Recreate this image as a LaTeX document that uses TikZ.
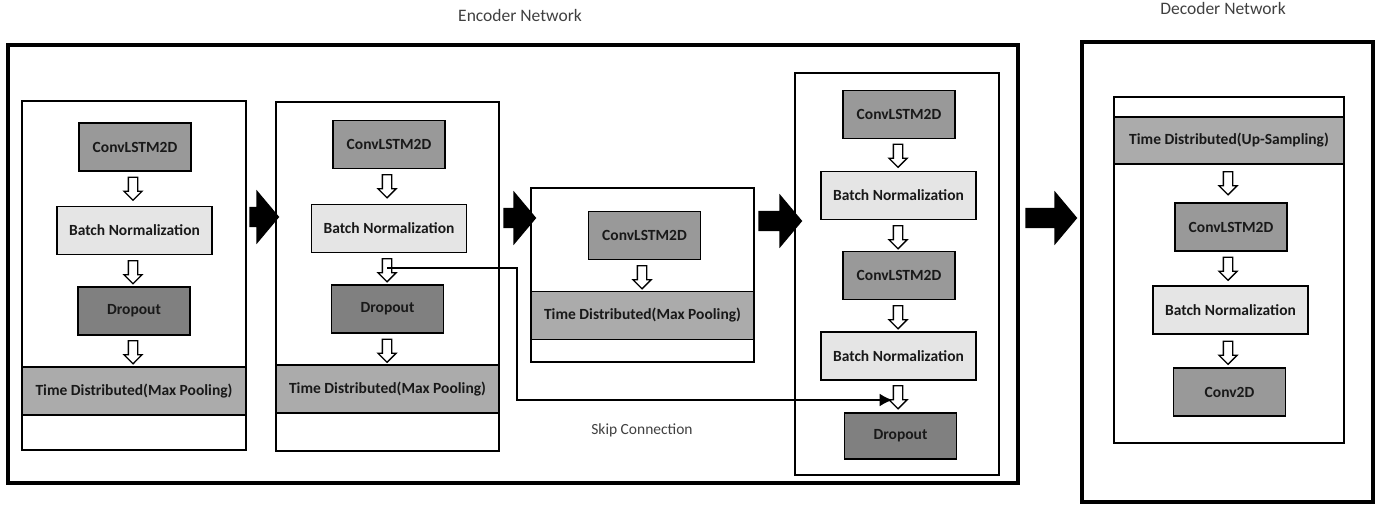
\documentclass[tikz,border=0pt]{standalone}
\usepackage{fontspec}
\setmainfont{Carlito}
\usepackage[usenames,dvipsnames]{xcolor}
\usetikzlibrary{calc, shapes.arrows, arrows.meta}

\definecolor{convgray}{gray}{0.60}
\definecolor{bngray}{gray}{0.90}
\definecolor{dropgray}{gray}{0.50}
\definecolor{tdgray}{gray}{0.67}

\tikzset{
    layerbox/.style={draw, line width=1.5pt, inner sep=0pt, minimum height=48pt,
        font=\fontsize{15.5}{17}\selectfont\bfseries, text=black!90},
    conv/.style={layerbox, fill=convgray, minimum width=112pt},
    batchnorm/.style={layerbox, fill=bngray, minimum width=155pt},
    dropbox/.style={layerbox, fill=dropgray, minimum width=112pt},
    tdist/.style={layerbox, fill=tdgray, minimum width=224pt},
    blockframe/.style={line width=2.5pt},
    flow/.style={single arrow, draw, fill=white, line width=1.3pt, shape border rotate=270,
        inner sep=4pt, single arrow head extend=4.5pt, minimum height=23pt},
    bigflow/.style={single arrow, fill=black, inner sep=10pt, single arrow head extend=17pt,
        single arrow tip angle=100},
    nettitle/.style={font=\fontsize{17.5}{19}\selectfont, text=black!75},
}

\begin{document}
\begin{tikzpicture}[x=1pt, y=-1pt]
    \useasboundingbox (0,0) rectangle (1387,506);

    % encoder and decoder frames
    \draw[line width=4pt] (8,45) rectangle (1018,483);
    \draw[line width=4pt] (1082,42) rectangle (1373,502);
    \node[nettitle] (enct) at (520,15) {Encoder Network};
    \node[nettitle] (dect) at (1223,8) {Decoder Network};

    % block 1
    \draw[blockframe] (22,101) rectangle (246,450);
    \node[conv] (b1c) at (135,147) {ConvLSTM2D};
    \node[flow] (b1f1) at (133,186.5) {};
    \node[batchnorm] (b1n) at (134.5,230.5) {Batch Normalization};
    \node[flow] (b1f2) at (133,270) {};
    \node[dropbox] (b1d) at (134,311) {Dropout};
    \node[flow] (b1f3) at (133,350) {};
    \node[tdist] (b1t) at (134,391) {Time Distributed(Max Pooling)};

    % block 2
    \draw[blockframe] (276,102) rectangle (499,451);
    \node[conv] (b2c) at (389,144.5) {ConvLSTM2D};
    \node[flow] (b2f1) at (387,184) {};
    \node[batchnorm] (b2n) at (389,228.5) {Batch Normalization};
    \node[flow] (b2f2) at (387,268) {};
    \node[dropbox] (b2d) at (387.5,309) {Dropout};
    \node[flow] (b2f3) at (387,348.5) {};
    \node[tdist, minimum width=223pt] (b2t) at (387.5,389) {Time Distributed(Max Pooling)};

    % block 3
    \draw[blockframe] (531,188) rectangle (754,362);
    \node[conv] (b3c) at (644.5,235.5) {ConvLSTM2D};
    \node[flow] (b3f1) at (642,275) {};
    \node[tdist, minimum width=223pt] (b3t) at (642.5,315.5) {Time Distributed(Max Pooling)};

    % block 4
    \draw[blockframe] (795,73) rectangle (999,475);
    \node[conv] (b4c1) at (899,114.5) {ConvLSTM2D};
    \node[flow] (b4f1) at (898,153.5) {};
    \node[batchnorm] (b4n1) at (898.5,195.5) {Batch Normalization};
    \node[flow] (b4f2) at (898,235) {};
    \node[conv] (b4c2) at (899,275.5) {ConvLSTM2D};
    \node[flow] (b4f3) at (898,315) {};
    \node[batchnorm] (b4n2) at (898.5,356) {Batch Normalization};
    \node[flow] (b4f4) at (898,395) {};
    \node[dropbox, minimum height=46pt] (b4d) at (900.5,436) {Dropout};

    % decoder block
    \draw[blockframe] (1114,97) rectangle (1344,443);
    \node[tdist, minimum width=230pt, minimum height=47pt] (dt) at (1229,140.5) {Time Distributed(Up-Sampling)};
    \node[flow] (df1) at (1228,181) {};
    \node[conv] (dc) at (1231,227) {ConvLSTM2D};
    \node[flow] (df2) at (1228,266.5) {};
    \node[batchnorm] (dn) at (1230.5,310) {Batch Normalization};
    \node[flow] (df3) at (1228,350.5) {};
    \node[conv] (dc2) at (1229.5,392) {Conv2D};

    % arrows between blocks
    \node[bigflow, minimum height=30pt] (g1) at (260,217) {};
    \node[bigflow, minimum height=33pt] (g2) at (515.5,218) {};
    \node[bigflow, minimum height=44pt] (g3) at (776,221) {};
    \node[bigflow, minimum height=52pt] (g4) at (1047,218) {};

    % skip connection
    \coordinate (skipturn) at (517,268);
    \draw[line width=2.5pt, -{Latex[length=13pt,width=13pt]}] (b2f2.center) -- (skipturn) |- ([yshift=-5pt]b4f4.west);
    \node[nettitle, font=\fontsize{15.5}{17}\selectfont] (skipt) at (642,430) {Skip Connection};
\end{tikzpicture}
\end{document}
